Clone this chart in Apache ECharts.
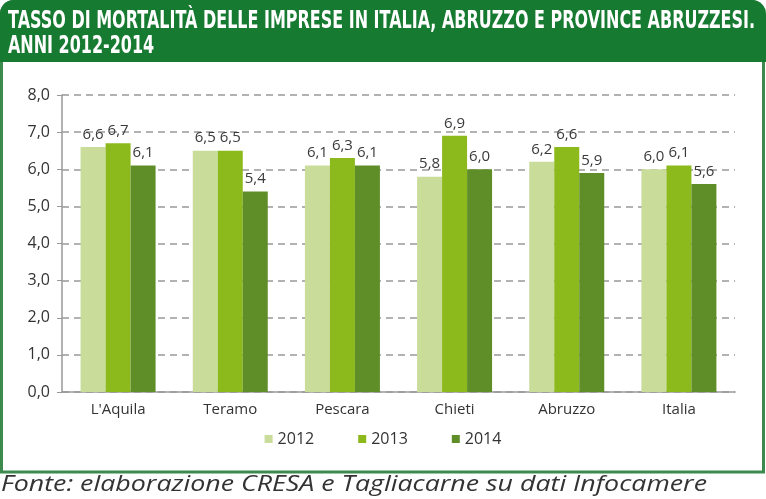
<!DOCTYPE html>
<html><head><meta charset="utf-8">
<script src="https://cdn.jsdelivr.net/npm/echarts@6/dist/echarts.min.js"></script>
<style>html,body{margin:0;padding:0;background:#fff}#c{width:766px;height:499px}</style>
</head><body><div id="c"></div>
<script>
const categories = ["L'Aquila", "Teramo", "Pescara", "Chieti", "Abruzzo", "Italia"];
const years = ["2012", "2013", "2014"];
const v2012 = [6.6, 6.5, 6.1, 5.8, 6.2, 6.0];
const v2013 = [6.7, 6.5, 6.3, 6.9, 6.6, 6.1];
const v2014 = [6.1, 5.4, 6.1, 6.0, 5.9, 5.6];
const yTicks = [0, 1, 2, 3, 4, 5, 6, 7, 8];
const titleLines = ['TASSO DI MORTALITÀ DELLE IMPRESE IN ITALIA, ABRUZZO E PROVINCE ABRUZZESI.', 'ANNI 2012-2014'];
const sourceText = 'Fonte: elaborazione CRESA e Tagliacarne su dati Infocamere';
const colors = ['#c9dc9a', '#8cb91c', '#5f8d28'];
const fmt = v => v.toFixed(1).replace('.', ',');

const ctx = document.createElement('canvas').getContext('2d');
function measure(font, text) { ctx.font = font; return ctx.measureText(text).width; }
const titleFont = 'bold 24px "DejaVu Sans"';
const titleScale = 747 / measure(titleFont, titleLines[0]);
const srcFont = 'italic 21px "Open Sans"';
const srcScale = 706 / measure(srcFont, sourceText);

const chart = echarts.init(document.getElementById('c'));
const lbl = { fontFamily: 'Open Sans', fontSize: 15, color: '#3a3a3a' };
const mk = (name, data, i) => ({
  name, type: 'bar', data, barWidth: 25, barGap: '0%',
  itemStyle: { color: colors[i] },
  label: Object.assign({ show: true, position: 'top', distance: 5, formatter: p => fmt(p.value) }, lbl)
});
chart.setOption({
  animation: false,
  graphic: [
    { type: 'rect', shape: { x: 1.5, y: 1.5, width: 762, height: 470.5, r: [12, 12, 0, 0] },
      style: { fill: '#fff', stroke: '#3d8a4e', lineWidth: 3 }, z: -10 },
    { type: 'rect', shape: { x: 0, y: 0, width: 766, height: 62, r: [14, 14, 0, 0] },
      style: { fill: '#177a31' }, z: -9 },
    { type: 'text', x: 8, y: 9, scaleX: titleScale, style: { text: titleLines.join('\n'),
      fill: '#fff', font: titleFont, lineHeight: 25, verticalAlign: 'top' } },
    { type: 'text', x: 1, y: 475, scaleX: srcScale, style: { text: sourceText,
      fill: '#333', font: srcFont, verticalAlign: 'top' } }
  ],
  grid: { left: 62, right: 31, top: 95, bottom: 107 },
  legend: {
    bottom: 47, left: 'center', itemWidth: 8, itemHeight: 8, itemGap: 44, icon: 'rect',
    textStyle: { fontFamily: 'Open Sans', fontSize: 16, color: '#333' },
    data: years
  },
  xAxis: {
    type: 'category', data: categories,
    axisLine: { lineStyle: { color: '#999', width: 1.5 } },
    axisTick: { show: false },
    axisLabel: { fontFamily: 'Open Sans', fontSize: 15, color: '#333', margin: 10 }
  },
  yAxis: {
    type: 'value', min: yTicks[0], max: yTicks[yTicks.length - 1], interval: 1,
    axisLine: { show: true, lineStyle: { color: '#999', width: 1.5 } },
    axisTick: { show: true, length: 5, lineStyle: { color: '#999' } },
    axisLabel: { formatter: v => fmt(v), fontFamily: 'Open Sans', fontSize: 16, color: '#333', margin: 12 },
    splitLine: { lineStyle: { type: [7, 5], color: '#999', width: 1.5 } }
  },
  series: [mk(years[0], v2012, 0), mk(years[1], v2013, 1), mk(years[2], v2014, 2)]
});
</script></body></html>
